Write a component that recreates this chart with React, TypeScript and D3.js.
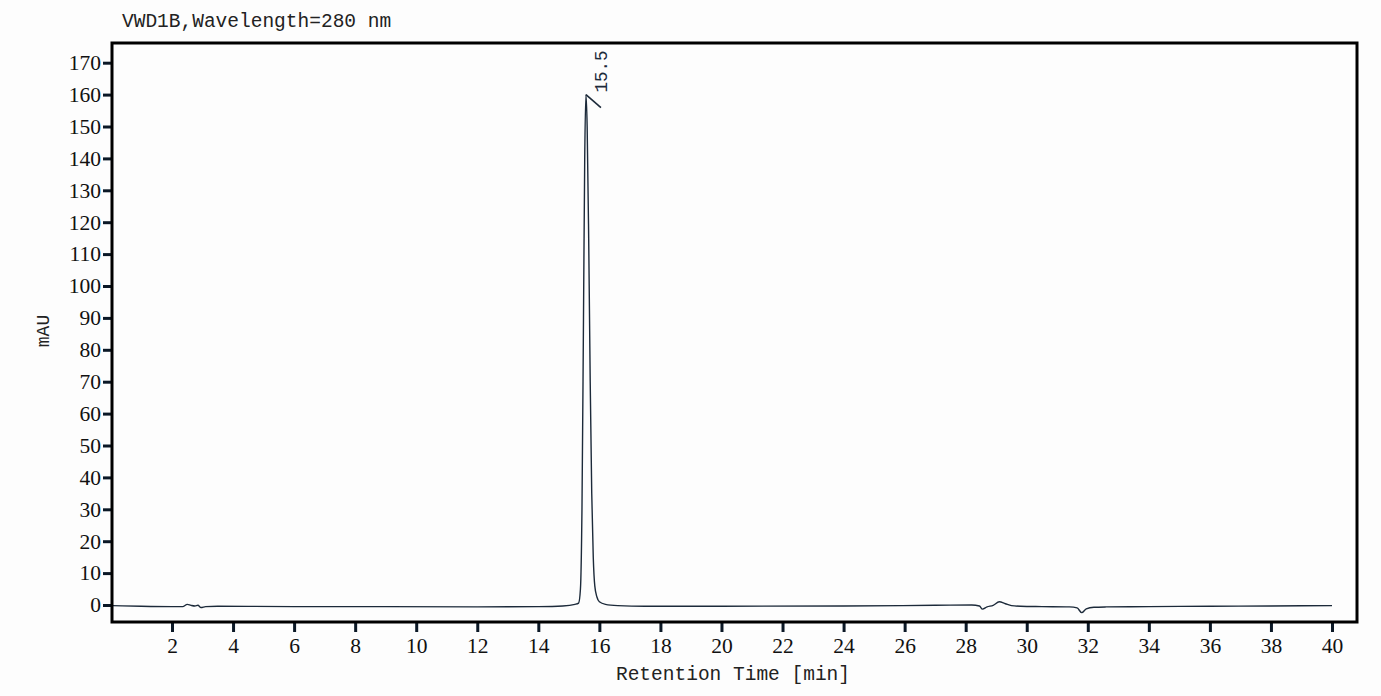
import { useEffect, useRef } from 'react'
import * as d3 from 'd3'

// retention time [min] and signal [mAU]
const times = [
  0.05, 1, 2, 2.35, 2.5, 2.62, 2.75, 2.85, 2.95, 3.1, 3.5, 6, 9, 12, 14, 14.8, 15.2, 15.32,
  15.38, 15.43, 15.48, 15.52, 15.56, 15.6, 15.65, 15.7, 15.75, 15.8, 15.85, 15.92, 16.0, 16.2,
  16.6, 17.5, 20, 24, 27, 28.2, 28.45, 28.55, 28.7, 28.9, 29.1, 29.3, 29.5, 29.8, 30.5, 31.4,
  31.65, 31.8, 31.95, 32.2, 32.6, 34, 36, 38, 40,
]
const signal = [
  -0.2, -0.4, -0.5, -0.5, 0.2, -0.1, -0.3, -0.1, -0.8, -0.5, -0.4, -0.5, -0.5, -0.6, -0.5, -0.3, 0.2, 0.6,
  5, 30, 90, 140, 160, 150, 115, 70, 35, 15, 6, 2.5, 1, 0.2,
  -0.2, -0.4, -0.4, -0.3, -0.1, 0, -0.3, -1.3, -0.6, -0.1, 1.0, 0.4, -0.2, -0.4, -0.5, -0.6,
  -0.9, -2.4, -1.2, -0.7, -0.6, -0.5, -0.4, -0.3, -0.2,
]
const peakTime = 15.56
const peakHeight = 160
const peakLabel = '15.5'

const yTicks = d3.range(0, 171, 10)
const xTicks = d3.range(2, 41, 2)

const title = 'VWD1B,Wavelength=280 nm'
const xTitle = 'Retention Time [min]'
const yTitle = 'mAU'

export default function App() {
  const svgRef = useRef<SVGSVGElement>(null)

  useEffect(() => {
    if (!svgRef.current) return
    const width = 1381
    const height = 696
    const frame = { left: 112, top: 43, right: 1357, bottom: 622 }
    const ink = '#0b1826'

    const svg = d3.select(svgRef.current)
    svg.selectAll('*').remove()
    svg.attr('width', width).attr('height', height)

    const x = d3.scaleLinear().domain([2, 40]).range([172, 1332])
    const y = d3.scaleLinear().domain([0, 170]).range([605, 62.7])

    svg.append('rect')
      .attr('width', width).attr('height', height)
      .attr('fill', '#fdfdfd')

    svg.append('defs').append('clipPath').attr('id', 'plot-clip')
      .append('rect')
      .attr('x', frame.left).attr('y', frame.top)
      .attr('width', frame.right - frame.left).attr('height', frame.bottom - frame.top)

    // Trace
    const pts: [number, number][] = times.map((t, i) => [t, signal[i]])
    const line = d3.line<[number, number]>()
      .x(d => x(d[0]))
      .y(d => y(d[1]))
      .curve(d3.curveMonotoneX)
    svg.append('path')
      .attr('d', line(pts))
      .attr('fill', 'none')
      .attr('stroke', '#1c2a3a')
      .attr('stroke-width', 1.4)
      .attr('clip-path', 'url(#plot-clip)')

    // Y axis
    const gy = svg.append('g')
      .attr('transform', `translate(${frame.left},0)`)
      .call(d3.axisLeft(y).tickValues(yTicks).tickSize(9).tickPadding(2).tickFormat(d3.format('d')))
    gy.select('.domain').remove()
    gy.selectAll('line').attr('stroke', ink).attr('stroke-width', 3)
    gy.selectAll('text')
      .attr('fill', '#111')
      .attr('font-family', '"Liberation Serif", serif')
      .attr('font-size', 21.5)

    // X axis
    const gx = svg.append('g')
      .attr('transform', `translate(0,${frame.bottom})`)
      .call(d3.axisBottom(x).tickValues(xTicks).tickSize(10).tickPadding(6).tickFormat(d3.format('d')))
    gx.select('.domain').remove()
    gx.selectAll('line').attr('stroke', ink).attr('stroke-width', 3)
    gx.selectAll('text')
      .attr('fill', '#111')
      .attr('font-family', '"Liberation Serif", serif')
      .attr('font-size', 21.5)

    // Frame
    svg.append('rect')
      .attr('x', frame.left).attr('y', frame.top)
      .attr('width', frame.right - frame.left).attr('height', frame.bottom - frame.top)
      .attr('fill', 'none')
      .attr('stroke', '#000')
      .attr('stroke-width', 3)

    // Peak annotation
    const px = x(peakTime)
    const py = y(peakHeight)
    svg.append('line')
      .attr('x1', px).attr('y1', py)
      .attr('x2', px + 15).attr('y2', py + 13)
      .attr('stroke', '#1c2a3a').attr('stroke-width', 1.6)
    svg.append('text')
      .attr('transform', `translate(${px + 21},${py - 2}) rotate(-90)`)
      .attr('text-anchor', 'start')
      .attr('font-family', '"Liberation Mono", monospace')
      .attr('font-size', 17.5)
      .attr('fill', '#1c2a3a')
      .text(peakLabel)

    // Titles
    svg.append('text')
      .attr('x', 122).attr('y', 27)
      .attr('font-family', '"Liberation Mono", monospace')
      .attr('font-size', 19.5)
      .attr('fill', '#222')
      .text(title)

    svg.append('text')
      .attr('x', 733).attr('y', 680)
      .attr('text-anchor', 'middle')
      .attr('font-family', '"Liberation Mono", monospace')
      .attr('font-size', 19.5)
      .attr('fill', '#222')
      .text(xTitle)

    svg.append('text')
      .attr('transform', 'translate(49,331) rotate(-90)')
      .attr('text-anchor', 'middle')
      .attr('font-family', '"Liberation Mono", monospace')
      .attr('font-size', 18)
      .attr('fill', '#222')
      .text(yTitle)
  }, [])

  return (
    <div style={{ position: 'absolute', left: 0, top: 0 }}>
      <svg ref={svgRef} style={{ display: 'block' }} />
    </div>
  )
}
